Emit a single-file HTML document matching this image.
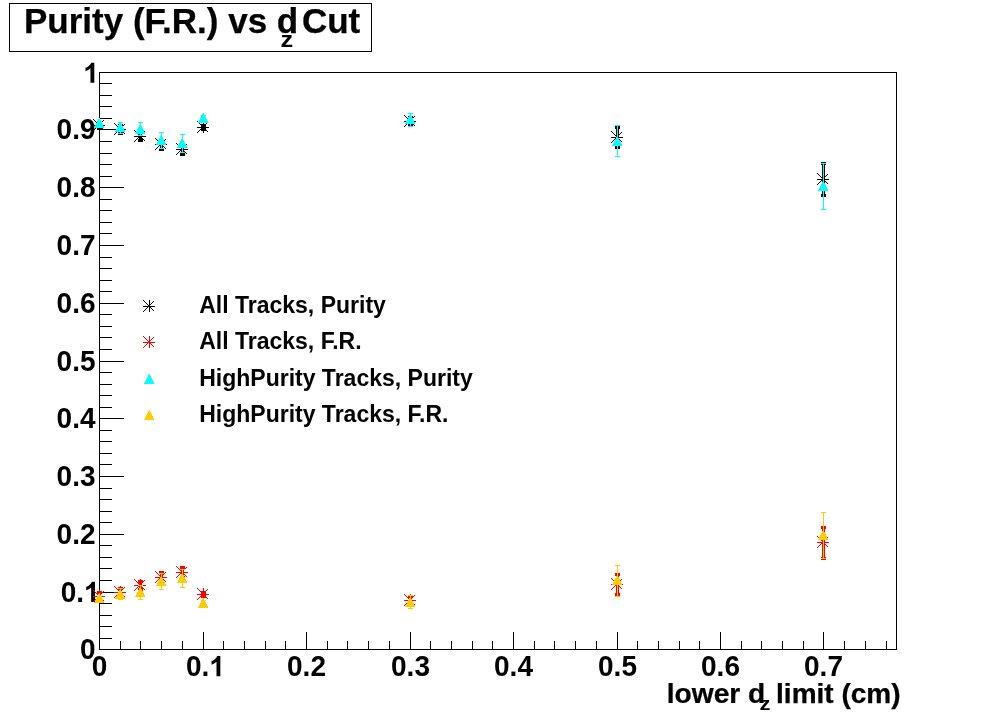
<!DOCTYPE html>
<html><head><meta charset="utf-8"><title>Purity (F.R.) vs dz Cut</title>
<style>html,body{margin:0;padding:0;background:#fff;}body{width:996px;height:722px;overflow:hidden;}svg{display:block;will-change:transform;}text{font-family:"Liberation Sans",sans-serif;font-weight:bold;fill:#000;}</style>
</head><body>
<svg width="996" height="722" viewBox="0 0 996 722">
<rect x="0" y="0" width="996" height="722" fill="#fff"/>
<g shape-rendering="crispEdges">
<rect x="9.5" y="3.5" width="362" height="48" fill="#fff" stroke="#000" stroke-width="1"/>
<rect x="99.5" y="72.5" width="797" height="577" fill="none" stroke="#000" stroke-width="1"/>
<rect x="99" y="649" width="25" height="1" fill="#000"/>
<rect x="99" y="638" width="13" height="1" fill="#000"/>
<rect x="99" y="626" width="13" height="1" fill="#000"/>
<rect x="99" y="615" width="13" height="1" fill="#000"/>
<rect x="99" y="603" width="13" height="1" fill="#000"/>
<rect x="99" y="592" width="25" height="1" fill="#000"/>
<rect x="99" y="580" width="13" height="1" fill="#000"/>
<rect x="99" y="568" width="13" height="1" fill="#000"/>
<rect x="99" y="557" width="13" height="1" fill="#000"/>
<rect x="99" y="545" width="13" height="1" fill="#000"/>
<rect x="99" y="534" width="25" height="1" fill="#000"/>
<rect x="99" y="522" width="13" height="1" fill="#000"/>
<rect x="99" y="511" width="13" height="1" fill="#000"/>
<rect x="99" y="499" width="13" height="1" fill="#000"/>
<rect x="99" y="488" width="13" height="1" fill="#000"/>
<rect x="99" y="476" width="25" height="1" fill="#000"/>
<rect x="99" y="464" width="13" height="1" fill="#000"/>
<rect x="99" y="453" width="13" height="1" fill="#000"/>
<rect x="99" y="441" width="13" height="1" fill="#000"/>
<rect x="99" y="430" width="13" height="1" fill="#000"/>
<rect x="99" y="418" width="25" height="1" fill="#000"/>
<rect x="99" y="407" width="13" height="1" fill="#000"/>
<rect x="99" y="395" width="13" height="1" fill="#000"/>
<rect x="99" y="384" width="13" height="1" fill="#000"/>
<rect x="99" y="372" width="13" height="1" fill="#000"/>
<rect x="99" y="361" width="25" height="1" fill="#000"/>
<rect x="99" y="349" width="13" height="1" fill="#000"/>
<rect x="99" y="337" width="13" height="1" fill="#000"/>
<rect x="99" y="326" width="13" height="1" fill="#000"/>
<rect x="99" y="314" width="13" height="1" fill="#000"/>
<rect x="99" y="303" width="25" height="1" fill="#000"/>
<rect x="99" y="291" width="13" height="1" fill="#000"/>
<rect x="99" y="280" width="13" height="1" fill="#000"/>
<rect x="99" y="268" width="13" height="1" fill="#000"/>
<rect x="99" y="257" width="13" height="1" fill="#000"/>
<rect x="99" y="245" width="25" height="1" fill="#000"/>
<rect x="99" y="233" width="13" height="1" fill="#000"/>
<rect x="99" y="222" width="13" height="1" fill="#000"/>
<rect x="99" y="210" width="13" height="1" fill="#000"/>
<rect x="99" y="199" width="13" height="1" fill="#000"/>
<rect x="99" y="187" width="25" height="1" fill="#000"/>
<rect x="99" y="176" width="13" height="1" fill="#000"/>
<rect x="99" y="164" width="13" height="1" fill="#000"/>
<rect x="99" y="153" width="13" height="1" fill="#000"/>
<rect x="99" y="141" width="13" height="1" fill="#000"/>
<rect x="99" y="129" width="25" height="1" fill="#000"/>
<rect x="99" y="118" width="13" height="1" fill="#000"/>
<rect x="99" y="106" width="13" height="1" fill="#000"/>
<rect x="99" y="95" width="13" height="1" fill="#000"/>
<rect x="99" y="83" width="13" height="1" fill="#000"/>
<rect x="99" y="72" width="25" height="1" fill="#000"/>
<rect x="99" y="632" width="1" height="18" fill="#000"/>
<rect x="120" y="641" width="1" height="9" fill="#000"/>
<rect x="140" y="641" width="1" height="9" fill="#000"/>
<rect x="161" y="641" width="1" height="9" fill="#000"/>
<rect x="182" y="641" width="1" height="9" fill="#000"/>
<rect x="203" y="632" width="1" height="18" fill="#000"/>
<rect x="223" y="641" width="1" height="9" fill="#000"/>
<rect x="244" y="641" width="1" height="9" fill="#000"/>
<rect x="265" y="641" width="1" height="9" fill="#000"/>
<rect x="285" y="641" width="1" height="9" fill="#000"/>
<rect x="306" y="632" width="1" height="18" fill="#000"/>
<rect x="327" y="641" width="1" height="9" fill="#000"/>
<rect x="347" y="641" width="1" height="9" fill="#000"/>
<rect x="368" y="641" width="1" height="9" fill="#000"/>
<rect x="389" y="641" width="1" height="9" fill="#000"/>
<rect x="410" y="632" width="1" height="18" fill="#000"/>
<rect x="430" y="641" width="1" height="9" fill="#000"/>
<rect x="451" y="641" width="1" height="9" fill="#000"/>
<rect x="472" y="641" width="1" height="9" fill="#000"/>
<rect x="492" y="641" width="1" height="9" fill="#000"/>
<rect x="513" y="632" width="1" height="18" fill="#000"/>
<rect x="534" y="641" width="1" height="9" fill="#000"/>
<rect x="554" y="641" width="1" height="9" fill="#000"/>
<rect x="575" y="641" width="1" height="9" fill="#000"/>
<rect x="596" y="641" width="1" height="9" fill="#000"/>
<rect x="617" y="632" width="1" height="18" fill="#000"/>
<rect x="637" y="641" width="1" height="9" fill="#000"/>
<rect x="658" y="641" width="1" height="9" fill="#000"/>
<rect x="679" y="641" width="1" height="9" fill="#000"/>
<rect x="699" y="641" width="1" height="9" fill="#000"/>
<rect x="720" y="632" width="1" height="18" fill="#000"/>
<rect x="741" y="641" width="1" height="9" fill="#000"/>
<rect x="761" y="641" width="1" height="9" fill="#000"/>
<rect x="782" y="641" width="1" height="9" fill="#000"/>
<rect x="803" y="641" width="1" height="9" fill="#000"/>
<rect x="823" y="632" width="1" height="18" fill="#000"/>
<rect x="844" y="641" width="1" height="9" fill="#000"/>
<rect x="865" y="641" width="1" height="9" fill="#000"/>
<rect x="886" y="641" width="1" height="9" fill="#000"/>
</g>
<text transform="translate(24.00,32.50) scale(1,1.0)" font-size="35" text-anchor="start" stroke="#000" stroke-width="0.25" xml:space="preserve">Purity (F.R.) vs d</text>
<text transform="translate(280.60,46.90) scale(1.15,1)" font-size="22" text-anchor="start" xml:space="preserve">z</text>
<text transform="translate(301.90,32.50) scale(1,1.0)" font-size="35" text-anchor="start" stroke="#000" stroke-width="0.25" xml:space="preserve">Cut</text>
<text transform="translate(95.50,658.90) scale(1,1.06)" font-size="28.0" text-anchor="end">0</text>
<path transform="translate(83.98,601.90) scale(0.01367,-0.01367)" d="M806 0H525V1059Q371 915 162 846V1101Q272 1137 401 1237.5Q530 1338 578 1472H806Z" fill="#000"/>
<text transform="translate(83.98,601.90) scale(1,1.06)" font-size="28.0" text-anchor="end">0.</text>
<text transform="translate(95.50,543.90) scale(1,1.06)" font-size="28.0" text-anchor="end">0.2</text>
<text transform="translate(95.50,485.90) scale(1,1.06)" font-size="28.0" text-anchor="end">0.3</text>
<text transform="translate(95.50,427.90) scale(1,1.06)" font-size="28.0" text-anchor="end">0.4</text>
<text transform="translate(95.50,370.90) scale(1,1.06)" font-size="28.0" text-anchor="end">0.5</text>
<text transform="translate(95.50,312.90) scale(1,1.06)" font-size="28.0" text-anchor="end">0.6</text>
<text transform="translate(95.50,254.90) scale(1,1.06)" font-size="28.0" text-anchor="end">0.7</text>
<text transform="translate(95.50,196.90) scale(1,1.06)" font-size="28.0" text-anchor="end">0.8</text>
<text transform="translate(95.50,138.90) scale(1,1.06)" font-size="28.0" text-anchor="end">0.9</text>
<path transform="translate(83.28,82.80) scale(0.01367,-0.01367)" d="M806 0H525V1059Q371 915 162 846V1101Q272 1137 401 1237.5Q530 1338 578 1472H806Z" fill="#000"/>
<text transform="translate(99.50,676.20) scale(1,1.06)" font-size="28.0" text-anchor="middle">0</text>
<text transform="translate(185.96,676.20) scale(1,1.06)" font-size="28.0" text-anchor="start">0.</text>
<path transform="translate(209.32,676.20) scale(0.01367,-0.01367)" d="M806 0H525V1059Q371 915 162 846V1101Q272 1137 401 1237.5Q530 1338 578 1472H806Z" fill="#000"/>
<text transform="translate(306.50,676.20) scale(1,1.06)" font-size="28.0" text-anchor="middle">0.2</text>
<text transform="translate(410.50,676.20) scale(1,1.06)" font-size="28.0" text-anchor="middle">0.3</text>
<text transform="translate(513.50,676.20) scale(1,1.06)" font-size="28.0" text-anchor="middle">0.4</text>
<text transform="translate(617.50,676.20) scale(1,1.06)" font-size="28.0" text-anchor="middle">0.5</text>
<text transform="translate(720.50,676.20) scale(1,1.06)" font-size="28.0" text-anchor="middle">0.6</text>
<text transform="translate(823.50,676.20) scale(1,1.06)" font-size="28.0" text-anchor="middle">0.7</text>
<text transform="translate(666.80,703.10) scale(1.005,1)" font-size="28" text-anchor="start" stroke="#000" stroke-width="0.25" xml:space="preserve">lower d</text>
<text transform="translate(759.50,709.70) scale(1.15,1)" font-size="19" text-anchor="start" xml:space="preserve">z</text>
<text transform="translate(768.30,703.10) scale(1,1)" font-size="28" text-anchor="start" stroke="#000" stroke-width="0.25" xml:space="preserve"> limit (cm)</text>
<text x="199.2" y="312.9" font-size="23">All Tracks, Purity</text>
<text x="199.2" y="349.0" font-size="23">All Tracks, F.R.</text>
<text x="199.2" y="385.7" font-size="23">HighPurity Tracks, Purity</text>
<text x="199.2" y="422.0" font-size="23">HighPurity Tracks, F.R.</text>
<g shape-rendering="crispEdges">
<rect x="98" y="122" width="3" height="7" fill="#000"/>
<rect x="97" y="121" width="5" height="3" fill="#000"/>
<rect x="97" y="127" width="5" height="3" fill="#000"/>
<rect x="93" y="125" width="12" height="1" fill="#000"/>
<rect x="99" y="119" width="1" height="12" fill="#000"/>
<rect x="93" y="119" width="1" height="1" fill="#000"/>
<rect x="94" y="120" width="1" height="1" fill="#000"/>
<rect x="95" y="121" width="1" height="1" fill="#000"/>
<rect x="96" y="122" width="1" height="1" fill="#000"/>
<rect x="97" y="123" width="1" height="1" fill="#000"/>
<rect x="98" y="124" width="1" height="1" fill="#000"/>
<rect x="99" y="125" width="1" height="1" fill="#000"/>
<rect x="100" y="126" width="1" height="1" fill="#000"/>
<rect x="101" y="127" width="1" height="1" fill="#000"/>
<rect x="102" y="128" width="1" height="1" fill="#000"/>
<rect x="103" y="129" width="1" height="1" fill="#000"/>
<rect x="93" y="130" width="1" height="1" fill="#000"/>
<rect x="94" y="129" width="1" height="1" fill="#000"/>
<rect x="95" y="128" width="1" height="1" fill="#000"/>
<rect x="96" y="127" width="1" height="1" fill="#000"/>
<rect x="97" y="126" width="1" height="1" fill="#000"/>
<rect x="98" y="125" width="1" height="1" fill="#000"/>
<rect x="99" y="124" width="1" height="1" fill="#000"/>
<rect x="100" y="123" width="1" height="1" fill="#000"/>
<rect x="101" y="122" width="1" height="1" fill="#000"/>
<rect x="102" y="121" width="1" height="1" fill="#000"/>
<rect x="103" y="120" width="1" height="1" fill="#000"/>
<rect x="119" y="125" width="3" height="9" fill="#000"/>
<rect x="118" y="124" width="5" height="3" fill="#000"/>
<rect x="118" y="132" width="5" height="3" fill="#000"/>
<rect x="114" y="129" width="12" height="1" fill="#000"/>
<rect x="120" y="123" width="1" height="12" fill="#000"/>
<rect x="114" y="123" width="1" height="1" fill="#000"/>
<rect x="115" y="124" width="1" height="1" fill="#000"/>
<rect x="116" y="125" width="1" height="1" fill="#000"/>
<rect x="117" y="126" width="1" height="1" fill="#000"/>
<rect x="118" y="127" width="1" height="1" fill="#000"/>
<rect x="119" y="128" width="1" height="1" fill="#000"/>
<rect x="120" y="129" width="1" height="1" fill="#000"/>
<rect x="121" y="130" width="1" height="1" fill="#000"/>
<rect x="122" y="131" width="1" height="1" fill="#000"/>
<rect x="123" y="132" width="1" height="1" fill="#000"/>
<rect x="124" y="133" width="1" height="1" fill="#000"/>
<rect x="114" y="134" width="1" height="1" fill="#000"/>
<rect x="115" y="133" width="1" height="1" fill="#000"/>
<rect x="116" y="132" width="1" height="1" fill="#000"/>
<rect x="117" y="131" width="1" height="1" fill="#000"/>
<rect x="118" y="130" width="1" height="1" fill="#000"/>
<rect x="119" y="129" width="1" height="1" fill="#000"/>
<rect x="120" y="128" width="1" height="1" fill="#000"/>
<rect x="121" y="127" width="1" height="1" fill="#000"/>
<rect x="122" y="126" width="1" height="1" fill="#000"/>
<rect x="123" y="125" width="1" height="1" fill="#000"/>
<rect x="124" y="124" width="1" height="1" fill="#000"/>
<rect x="139" y="132" width="3" height="9" fill="#000"/>
<rect x="138" y="131" width="5" height="3" fill="#000"/>
<rect x="138" y="139" width="5" height="3" fill="#000"/>
<rect x="134" y="136" width="12" height="1" fill="#000"/>
<rect x="140" y="130" width="1" height="12" fill="#000"/>
<rect x="134" y="130" width="1" height="1" fill="#000"/>
<rect x="135" y="131" width="1" height="1" fill="#000"/>
<rect x="136" y="132" width="1" height="1" fill="#000"/>
<rect x="137" y="133" width="1" height="1" fill="#000"/>
<rect x="138" y="134" width="1" height="1" fill="#000"/>
<rect x="139" y="135" width="1" height="1" fill="#000"/>
<rect x="140" y="136" width="1" height="1" fill="#000"/>
<rect x="141" y="137" width="1" height="1" fill="#000"/>
<rect x="142" y="138" width="1" height="1" fill="#000"/>
<rect x="143" y="139" width="1" height="1" fill="#000"/>
<rect x="144" y="140" width="1" height="1" fill="#000"/>
<rect x="134" y="141" width="1" height="1" fill="#000"/>
<rect x="135" y="140" width="1" height="1" fill="#000"/>
<rect x="136" y="139" width="1" height="1" fill="#000"/>
<rect x="137" y="138" width="1" height="1" fill="#000"/>
<rect x="138" y="137" width="1" height="1" fill="#000"/>
<rect x="139" y="136" width="1" height="1" fill="#000"/>
<rect x="140" y="135" width="1" height="1" fill="#000"/>
<rect x="141" y="134" width="1" height="1" fill="#000"/>
<rect x="142" y="133" width="1" height="1" fill="#000"/>
<rect x="143" y="132" width="1" height="1" fill="#000"/>
<rect x="144" y="131" width="1" height="1" fill="#000"/>
<rect x="160" y="140" width="3" height="10" fill="#000"/>
<rect x="159" y="139" width="5" height="3" fill="#000"/>
<rect x="159" y="148" width="5" height="3" fill="#000"/>
<rect x="155" y="144" width="12" height="1" fill="#000"/>
<rect x="161" y="138" width="1" height="12" fill="#000"/>
<rect x="155" y="138" width="1" height="1" fill="#000"/>
<rect x="156" y="139" width="1" height="1" fill="#000"/>
<rect x="157" y="140" width="1" height="1" fill="#000"/>
<rect x="158" y="141" width="1" height="1" fill="#000"/>
<rect x="159" y="142" width="1" height="1" fill="#000"/>
<rect x="160" y="143" width="1" height="1" fill="#000"/>
<rect x="161" y="144" width="1" height="1" fill="#000"/>
<rect x="162" y="145" width="1" height="1" fill="#000"/>
<rect x="163" y="146" width="1" height="1" fill="#000"/>
<rect x="164" y="147" width="1" height="1" fill="#000"/>
<rect x="165" y="148" width="1" height="1" fill="#000"/>
<rect x="155" y="149" width="1" height="1" fill="#000"/>
<rect x="156" y="148" width="1" height="1" fill="#000"/>
<rect x="157" y="147" width="1" height="1" fill="#000"/>
<rect x="158" y="146" width="1" height="1" fill="#000"/>
<rect x="159" y="145" width="1" height="1" fill="#000"/>
<rect x="160" y="144" width="1" height="1" fill="#000"/>
<rect x="161" y="143" width="1" height="1" fill="#000"/>
<rect x="162" y="142" width="1" height="1" fill="#000"/>
<rect x="163" y="141" width="1" height="1" fill="#000"/>
<rect x="164" y="140" width="1" height="1" fill="#000"/>
<rect x="165" y="139" width="1" height="1" fill="#000"/>
<rect x="181" y="144" width="3" height="11" fill="#000"/>
<rect x="180" y="143" width="5" height="3" fill="#000"/>
<rect x="180" y="153" width="5" height="3" fill="#000"/>
<rect x="176" y="149" width="12" height="1" fill="#000"/>
<rect x="182" y="143" width="1" height="12" fill="#000"/>
<rect x="176" y="143" width="1" height="1" fill="#000"/>
<rect x="177" y="144" width="1" height="1" fill="#000"/>
<rect x="178" y="145" width="1" height="1" fill="#000"/>
<rect x="179" y="146" width="1" height="1" fill="#000"/>
<rect x="180" y="147" width="1" height="1" fill="#000"/>
<rect x="181" y="148" width="1" height="1" fill="#000"/>
<rect x="182" y="149" width="1" height="1" fill="#000"/>
<rect x="183" y="150" width="1" height="1" fill="#000"/>
<rect x="184" y="151" width="1" height="1" fill="#000"/>
<rect x="185" y="152" width="1" height="1" fill="#000"/>
<rect x="186" y="153" width="1" height="1" fill="#000"/>
<rect x="176" y="154" width="1" height="1" fill="#000"/>
<rect x="177" y="153" width="1" height="1" fill="#000"/>
<rect x="178" y="152" width="1" height="1" fill="#000"/>
<rect x="179" y="151" width="1" height="1" fill="#000"/>
<rect x="180" y="150" width="1" height="1" fill="#000"/>
<rect x="181" y="149" width="1" height="1" fill="#000"/>
<rect x="182" y="148" width="1" height="1" fill="#000"/>
<rect x="183" y="147" width="1" height="1" fill="#000"/>
<rect x="184" y="146" width="1" height="1" fill="#000"/>
<rect x="185" y="145" width="1" height="1" fill="#000"/>
<rect x="186" y="144" width="1" height="1" fill="#000"/>
<rect x="202" y="125" width="3" height="5" fill="#000"/>
<rect x="201" y="124" width="5" height="3" fill="#000"/>
<rect x="201" y="128" width="5" height="3" fill="#000"/>
<rect x="197" y="127" width="12" height="1" fill="#000"/>
<rect x="203" y="121" width="1" height="12" fill="#000"/>
<rect x="197" y="121" width="1" height="1" fill="#000"/>
<rect x="198" y="122" width="1" height="1" fill="#000"/>
<rect x="199" y="123" width="1" height="1" fill="#000"/>
<rect x="200" y="124" width="1" height="1" fill="#000"/>
<rect x="201" y="125" width="1" height="1" fill="#000"/>
<rect x="202" y="126" width="1" height="1" fill="#000"/>
<rect x="203" y="127" width="1" height="1" fill="#000"/>
<rect x="204" y="128" width="1" height="1" fill="#000"/>
<rect x="205" y="129" width="1" height="1" fill="#000"/>
<rect x="206" y="130" width="1" height="1" fill="#000"/>
<rect x="207" y="131" width="1" height="1" fill="#000"/>
<rect x="197" y="132" width="1" height="1" fill="#000"/>
<rect x="198" y="131" width="1" height="1" fill="#000"/>
<rect x="199" y="130" width="1" height="1" fill="#000"/>
<rect x="200" y="129" width="1" height="1" fill="#000"/>
<rect x="201" y="128" width="1" height="1" fill="#000"/>
<rect x="202" y="127" width="1" height="1" fill="#000"/>
<rect x="203" y="126" width="1" height="1" fill="#000"/>
<rect x="204" y="125" width="1" height="1" fill="#000"/>
<rect x="205" y="124" width="1" height="1" fill="#000"/>
<rect x="206" y="123" width="1" height="1" fill="#000"/>
<rect x="207" y="122" width="1" height="1" fill="#000"/>
<rect x="409" y="117" width="3" height="9" fill="#000"/>
<rect x="408" y="116" width="5" height="3" fill="#000"/>
<rect x="408" y="124" width="5" height="3" fill="#000"/>
<rect x="404" y="121" width="12" height="1" fill="#000"/>
<rect x="410" y="115" width="1" height="12" fill="#000"/>
<rect x="404" y="115" width="1" height="1" fill="#000"/>
<rect x="405" y="116" width="1" height="1" fill="#000"/>
<rect x="406" y="117" width="1" height="1" fill="#000"/>
<rect x="407" y="118" width="1" height="1" fill="#000"/>
<rect x="408" y="119" width="1" height="1" fill="#000"/>
<rect x="409" y="120" width="1" height="1" fill="#000"/>
<rect x="410" y="121" width="1" height="1" fill="#000"/>
<rect x="411" y="122" width="1" height="1" fill="#000"/>
<rect x="412" y="123" width="1" height="1" fill="#000"/>
<rect x="413" y="124" width="1" height="1" fill="#000"/>
<rect x="414" y="125" width="1" height="1" fill="#000"/>
<rect x="404" y="126" width="1" height="1" fill="#000"/>
<rect x="405" y="125" width="1" height="1" fill="#000"/>
<rect x="406" y="124" width="1" height="1" fill="#000"/>
<rect x="407" y="123" width="1" height="1" fill="#000"/>
<rect x="408" y="122" width="1" height="1" fill="#000"/>
<rect x="409" y="121" width="1" height="1" fill="#000"/>
<rect x="410" y="120" width="1" height="1" fill="#000"/>
<rect x="411" y="119" width="1" height="1" fill="#000"/>
<rect x="412" y="118" width="1" height="1" fill="#000"/>
<rect x="413" y="117" width="1" height="1" fill="#000"/>
<rect x="414" y="116" width="1" height="1" fill="#000"/>
<rect x="616" y="127" width="3" height="21" fill="#000"/>
<rect x="615" y="126" width="5" height="3" fill="#000"/>
<rect x="615" y="146" width="5" height="3" fill="#000"/>
<rect x="611" y="137" width="12" height="1" fill="#000"/>
<rect x="617" y="131" width="1" height="12" fill="#000"/>
<rect x="611" y="131" width="1" height="1" fill="#000"/>
<rect x="612" y="132" width="1" height="1" fill="#000"/>
<rect x="613" y="133" width="1" height="1" fill="#000"/>
<rect x="614" y="134" width="1" height="1" fill="#000"/>
<rect x="615" y="135" width="1" height="1" fill="#000"/>
<rect x="616" y="136" width="1" height="1" fill="#000"/>
<rect x="617" y="137" width="1" height="1" fill="#000"/>
<rect x="618" y="138" width="1" height="1" fill="#000"/>
<rect x="619" y="139" width="1" height="1" fill="#000"/>
<rect x="620" y="140" width="1" height="1" fill="#000"/>
<rect x="621" y="141" width="1" height="1" fill="#000"/>
<rect x="611" y="142" width="1" height="1" fill="#000"/>
<rect x="612" y="141" width="1" height="1" fill="#000"/>
<rect x="613" y="140" width="1" height="1" fill="#000"/>
<rect x="614" y="139" width="1" height="1" fill="#000"/>
<rect x="615" y="138" width="1" height="1" fill="#000"/>
<rect x="616" y="137" width="1" height="1" fill="#000"/>
<rect x="617" y="136" width="1" height="1" fill="#000"/>
<rect x="618" y="135" width="1" height="1" fill="#000"/>
<rect x="619" y="134" width="1" height="1" fill="#000"/>
<rect x="620" y="133" width="1" height="1" fill="#000"/>
<rect x="621" y="132" width="1" height="1" fill="#000"/>
<rect x="822" y="163" width="3" height="33" fill="#000"/>
<rect x="821" y="162" width="5" height="3" fill="#000"/>
<rect x="821" y="194" width="5" height="3" fill="#000"/>
<rect x="817" y="179" width="12" height="1" fill="#000"/>
<rect x="823" y="173" width="1" height="12" fill="#000"/>
<rect x="817" y="173" width="1" height="1" fill="#000"/>
<rect x="818" y="174" width="1" height="1" fill="#000"/>
<rect x="819" y="175" width="1" height="1" fill="#000"/>
<rect x="820" y="176" width="1" height="1" fill="#000"/>
<rect x="821" y="177" width="1" height="1" fill="#000"/>
<rect x="822" y="178" width="1" height="1" fill="#000"/>
<rect x="823" y="179" width="1" height="1" fill="#000"/>
<rect x="824" y="180" width="1" height="1" fill="#000"/>
<rect x="825" y="181" width="1" height="1" fill="#000"/>
<rect x="826" y="182" width="1" height="1" fill="#000"/>
<rect x="827" y="183" width="1" height="1" fill="#000"/>
<rect x="817" y="184" width="1" height="1" fill="#000"/>
<rect x="818" y="183" width="1" height="1" fill="#000"/>
<rect x="819" y="182" width="1" height="1" fill="#000"/>
<rect x="820" y="181" width="1" height="1" fill="#000"/>
<rect x="821" y="180" width="1" height="1" fill="#000"/>
<rect x="822" y="179" width="1" height="1" fill="#000"/>
<rect x="823" y="178" width="1" height="1" fill="#000"/>
<rect x="824" y="177" width="1" height="1" fill="#000"/>
<rect x="825" y="176" width="1" height="1" fill="#000"/>
<rect x="826" y="175" width="1" height="1" fill="#000"/>
<rect x="827" y="174" width="1" height="1" fill="#000"/>
<rect x="98" y="592" width="3" height="9" fill="#f00"/>
<rect x="97" y="591" width="5" height="3" fill="#f00"/>
<rect x="97" y="599" width="5" height="3" fill="#f00"/>
<rect x="93" y="596" width="12" height="1" fill="#f00"/>
<rect x="99" y="590" width="1" height="12" fill="#f00"/>
<rect x="93" y="590" width="1" height="1" fill="#f00"/>
<rect x="94" y="591" width="1" height="1" fill="#f00"/>
<rect x="95" y="592" width="1" height="1" fill="#f00"/>
<rect x="96" y="593" width="1" height="1" fill="#f00"/>
<rect x="97" y="594" width="1" height="1" fill="#f00"/>
<rect x="98" y="595" width="1" height="1" fill="#f00"/>
<rect x="99" y="596" width="1" height="1" fill="#f00"/>
<rect x="100" y="597" width="1" height="1" fill="#f00"/>
<rect x="101" y="598" width="1" height="1" fill="#f00"/>
<rect x="102" y="599" width="1" height="1" fill="#f00"/>
<rect x="103" y="600" width="1" height="1" fill="#f00"/>
<rect x="93" y="601" width="1" height="1" fill="#f00"/>
<rect x="94" y="600" width="1" height="1" fill="#f00"/>
<rect x="95" y="599" width="1" height="1" fill="#f00"/>
<rect x="96" y="598" width="1" height="1" fill="#f00"/>
<rect x="97" y="597" width="1" height="1" fill="#f00"/>
<rect x="98" y="596" width="1" height="1" fill="#f00"/>
<rect x="99" y="595" width="1" height="1" fill="#f00"/>
<rect x="100" y="594" width="1" height="1" fill="#f00"/>
<rect x="101" y="593" width="1" height="1" fill="#f00"/>
<rect x="102" y="592" width="1" height="1" fill="#f00"/>
<rect x="103" y="591" width="1" height="1" fill="#f00"/>
<rect x="119" y="588" width="3" height="9" fill="#f00"/>
<rect x="118" y="587" width="5" height="3" fill="#f00"/>
<rect x="118" y="595" width="5" height="3" fill="#f00"/>
<rect x="114" y="592" width="12" height="1" fill="#f00"/>
<rect x="120" y="586" width="1" height="12" fill="#f00"/>
<rect x="114" y="586" width="1" height="1" fill="#f00"/>
<rect x="115" y="587" width="1" height="1" fill="#f00"/>
<rect x="116" y="588" width="1" height="1" fill="#f00"/>
<rect x="117" y="589" width="1" height="1" fill="#f00"/>
<rect x="118" y="590" width="1" height="1" fill="#f00"/>
<rect x="119" y="591" width="1" height="1" fill="#f00"/>
<rect x="120" y="592" width="1" height="1" fill="#f00"/>
<rect x="121" y="593" width="1" height="1" fill="#f00"/>
<rect x="122" y="594" width="1" height="1" fill="#f00"/>
<rect x="123" y="595" width="1" height="1" fill="#f00"/>
<rect x="124" y="596" width="1" height="1" fill="#f00"/>
<rect x="114" y="597" width="1" height="1" fill="#f00"/>
<rect x="115" y="596" width="1" height="1" fill="#f00"/>
<rect x="116" y="595" width="1" height="1" fill="#f00"/>
<rect x="117" y="594" width="1" height="1" fill="#f00"/>
<rect x="118" y="593" width="1" height="1" fill="#f00"/>
<rect x="119" y="592" width="1" height="1" fill="#f00"/>
<rect x="120" y="591" width="1" height="1" fill="#f00"/>
<rect x="121" y="590" width="1" height="1" fill="#f00"/>
<rect x="122" y="589" width="1" height="1" fill="#f00"/>
<rect x="123" y="588" width="1" height="1" fill="#f00"/>
<rect x="124" y="587" width="1" height="1" fill="#f00"/>
<rect x="139" y="581" width="3" height="9" fill="#f00"/>
<rect x="138" y="580" width="5" height="3" fill="#f00"/>
<rect x="138" y="588" width="5" height="3" fill="#f00"/>
<rect x="134" y="585" width="12" height="1" fill="#f00"/>
<rect x="140" y="579" width="1" height="12" fill="#f00"/>
<rect x="134" y="579" width="1" height="1" fill="#f00"/>
<rect x="135" y="580" width="1" height="1" fill="#f00"/>
<rect x="136" y="581" width="1" height="1" fill="#f00"/>
<rect x="137" y="582" width="1" height="1" fill="#f00"/>
<rect x="138" y="583" width="1" height="1" fill="#f00"/>
<rect x="139" y="584" width="1" height="1" fill="#f00"/>
<rect x="140" y="585" width="1" height="1" fill="#f00"/>
<rect x="141" y="586" width="1" height="1" fill="#f00"/>
<rect x="142" y="587" width="1" height="1" fill="#f00"/>
<rect x="143" y="588" width="1" height="1" fill="#f00"/>
<rect x="144" y="589" width="1" height="1" fill="#f00"/>
<rect x="134" y="590" width="1" height="1" fill="#f00"/>
<rect x="135" y="589" width="1" height="1" fill="#f00"/>
<rect x="136" y="588" width="1" height="1" fill="#f00"/>
<rect x="137" y="587" width="1" height="1" fill="#f00"/>
<rect x="138" y="586" width="1" height="1" fill="#f00"/>
<rect x="139" y="585" width="1" height="1" fill="#f00"/>
<rect x="140" y="584" width="1" height="1" fill="#f00"/>
<rect x="141" y="583" width="1" height="1" fill="#f00"/>
<rect x="142" y="582" width="1" height="1" fill="#f00"/>
<rect x="143" y="581" width="1" height="1" fill="#f00"/>
<rect x="144" y="580" width="1" height="1" fill="#f00"/>
<rect x="160" y="572" width="3" height="11" fill="#f00"/>
<rect x="159" y="571" width="5" height="3" fill="#f00"/>
<rect x="159" y="581" width="5" height="3" fill="#f00"/>
<rect x="155" y="577" width="12" height="1" fill="#f00"/>
<rect x="161" y="571" width="1" height="12" fill="#f00"/>
<rect x="155" y="571" width="1" height="1" fill="#f00"/>
<rect x="156" y="572" width="1" height="1" fill="#f00"/>
<rect x="157" y="573" width="1" height="1" fill="#f00"/>
<rect x="158" y="574" width="1" height="1" fill="#f00"/>
<rect x="159" y="575" width="1" height="1" fill="#f00"/>
<rect x="160" y="576" width="1" height="1" fill="#f00"/>
<rect x="161" y="577" width="1" height="1" fill="#f00"/>
<rect x="162" y="578" width="1" height="1" fill="#f00"/>
<rect x="163" y="579" width="1" height="1" fill="#f00"/>
<rect x="164" y="580" width="1" height="1" fill="#f00"/>
<rect x="165" y="581" width="1" height="1" fill="#f00"/>
<rect x="155" y="582" width="1" height="1" fill="#f00"/>
<rect x="156" y="581" width="1" height="1" fill="#f00"/>
<rect x="157" y="580" width="1" height="1" fill="#f00"/>
<rect x="158" y="579" width="1" height="1" fill="#f00"/>
<rect x="159" y="578" width="1" height="1" fill="#f00"/>
<rect x="160" y="577" width="1" height="1" fill="#f00"/>
<rect x="161" y="576" width="1" height="1" fill="#f00"/>
<rect x="162" y="575" width="1" height="1" fill="#f00"/>
<rect x="163" y="574" width="1" height="1" fill="#f00"/>
<rect x="164" y="573" width="1" height="1" fill="#f00"/>
<rect x="165" y="572" width="1" height="1" fill="#f00"/>
<rect x="181" y="567" width="3" height="11" fill="#f00"/>
<rect x="180" y="566" width="5" height="3" fill="#f00"/>
<rect x="180" y="576" width="5" height="3" fill="#f00"/>
<rect x="176" y="572" width="12" height="1" fill="#f00"/>
<rect x="182" y="566" width="1" height="12" fill="#f00"/>
<rect x="176" y="566" width="1" height="1" fill="#f00"/>
<rect x="177" y="567" width="1" height="1" fill="#f00"/>
<rect x="178" y="568" width="1" height="1" fill="#f00"/>
<rect x="179" y="569" width="1" height="1" fill="#f00"/>
<rect x="180" y="570" width="1" height="1" fill="#f00"/>
<rect x="181" y="571" width="1" height="1" fill="#f00"/>
<rect x="182" y="572" width="1" height="1" fill="#f00"/>
<rect x="183" y="573" width="1" height="1" fill="#f00"/>
<rect x="184" y="574" width="1" height="1" fill="#f00"/>
<rect x="185" y="575" width="1" height="1" fill="#f00"/>
<rect x="186" y="576" width="1" height="1" fill="#f00"/>
<rect x="176" y="577" width="1" height="1" fill="#f00"/>
<rect x="177" y="576" width="1" height="1" fill="#f00"/>
<rect x="178" y="575" width="1" height="1" fill="#f00"/>
<rect x="179" y="574" width="1" height="1" fill="#f00"/>
<rect x="180" y="573" width="1" height="1" fill="#f00"/>
<rect x="181" y="572" width="1" height="1" fill="#f00"/>
<rect x="182" y="571" width="1" height="1" fill="#f00"/>
<rect x="183" y="570" width="1" height="1" fill="#f00"/>
<rect x="184" y="569" width="1" height="1" fill="#f00"/>
<rect x="185" y="568" width="1" height="1" fill="#f00"/>
<rect x="186" y="567" width="1" height="1" fill="#f00"/>
<rect x="202" y="592" width="3" height="5" fill="#f00"/>
<rect x="201" y="591" width="5" height="3" fill="#f00"/>
<rect x="201" y="595" width="5" height="3" fill="#f00"/>
<rect x="197" y="594" width="12" height="1" fill="#f00"/>
<rect x="203" y="588" width="1" height="12" fill="#f00"/>
<rect x="197" y="588" width="1" height="1" fill="#f00"/>
<rect x="198" y="589" width="1" height="1" fill="#f00"/>
<rect x="199" y="590" width="1" height="1" fill="#f00"/>
<rect x="200" y="591" width="1" height="1" fill="#f00"/>
<rect x="201" y="592" width="1" height="1" fill="#f00"/>
<rect x="202" y="593" width="1" height="1" fill="#f00"/>
<rect x="203" y="594" width="1" height="1" fill="#f00"/>
<rect x="204" y="595" width="1" height="1" fill="#f00"/>
<rect x="205" y="596" width="1" height="1" fill="#f00"/>
<rect x="206" y="597" width="1" height="1" fill="#f00"/>
<rect x="207" y="598" width="1" height="1" fill="#f00"/>
<rect x="197" y="599" width="1" height="1" fill="#f00"/>
<rect x="198" y="598" width="1" height="1" fill="#f00"/>
<rect x="199" y="597" width="1" height="1" fill="#f00"/>
<rect x="200" y="596" width="1" height="1" fill="#f00"/>
<rect x="201" y="595" width="1" height="1" fill="#f00"/>
<rect x="202" y="594" width="1" height="1" fill="#f00"/>
<rect x="203" y="593" width="1" height="1" fill="#f00"/>
<rect x="204" y="592" width="1" height="1" fill="#f00"/>
<rect x="205" y="591" width="1" height="1" fill="#f00"/>
<rect x="206" y="590" width="1" height="1" fill="#f00"/>
<rect x="207" y="589" width="1" height="1" fill="#f00"/>
<rect x="409" y="596" width="3" height="9" fill="#f00"/>
<rect x="408" y="595" width="5" height="3" fill="#f00"/>
<rect x="408" y="603" width="5" height="3" fill="#f00"/>
<rect x="404" y="600" width="12" height="1" fill="#f00"/>
<rect x="410" y="594" width="1" height="12" fill="#f00"/>
<rect x="404" y="594" width="1" height="1" fill="#f00"/>
<rect x="405" y="595" width="1" height="1" fill="#f00"/>
<rect x="406" y="596" width="1" height="1" fill="#f00"/>
<rect x="407" y="597" width="1" height="1" fill="#f00"/>
<rect x="408" y="598" width="1" height="1" fill="#f00"/>
<rect x="409" y="599" width="1" height="1" fill="#f00"/>
<rect x="410" y="600" width="1" height="1" fill="#f00"/>
<rect x="411" y="601" width="1" height="1" fill="#f00"/>
<rect x="412" y="602" width="1" height="1" fill="#f00"/>
<rect x="413" y="603" width="1" height="1" fill="#f00"/>
<rect x="414" y="604" width="1" height="1" fill="#f00"/>
<rect x="404" y="605" width="1" height="1" fill="#f00"/>
<rect x="405" y="604" width="1" height="1" fill="#f00"/>
<rect x="406" y="603" width="1" height="1" fill="#f00"/>
<rect x="407" y="602" width="1" height="1" fill="#f00"/>
<rect x="408" y="601" width="1" height="1" fill="#f00"/>
<rect x="409" y="600" width="1" height="1" fill="#f00"/>
<rect x="410" y="599" width="1" height="1" fill="#f00"/>
<rect x="411" y="598" width="1" height="1" fill="#f00"/>
<rect x="412" y="597" width="1" height="1" fill="#f00"/>
<rect x="413" y="596" width="1" height="1" fill="#f00"/>
<rect x="414" y="595" width="1" height="1" fill="#f00"/>
<rect x="616" y="574" width="3" height="21" fill="#f00"/>
<rect x="615" y="573" width="5" height="3" fill="#f00"/>
<rect x="615" y="593" width="5" height="3" fill="#f00"/>
<rect x="611" y="584" width="12" height="1" fill="#f00"/>
<rect x="617" y="578" width="1" height="12" fill="#f00"/>
<rect x="611" y="578" width="1" height="1" fill="#f00"/>
<rect x="612" y="579" width="1" height="1" fill="#f00"/>
<rect x="613" y="580" width="1" height="1" fill="#f00"/>
<rect x="614" y="581" width="1" height="1" fill="#f00"/>
<rect x="615" y="582" width="1" height="1" fill="#f00"/>
<rect x="616" y="583" width="1" height="1" fill="#f00"/>
<rect x="617" y="584" width="1" height="1" fill="#f00"/>
<rect x="618" y="585" width="1" height="1" fill="#f00"/>
<rect x="619" y="586" width="1" height="1" fill="#f00"/>
<rect x="620" y="587" width="1" height="1" fill="#f00"/>
<rect x="621" y="588" width="1" height="1" fill="#f00"/>
<rect x="611" y="589" width="1" height="1" fill="#f00"/>
<rect x="612" y="588" width="1" height="1" fill="#f00"/>
<rect x="613" y="587" width="1" height="1" fill="#f00"/>
<rect x="614" y="586" width="1" height="1" fill="#f00"/>
<rect x="615" y="585" width="1" height="1" fill="#f00"/>
<rect x="616" y="584" width="1" height="1" fill="#f00"/>
<rect x="617" y="583" width="1" height="1" fill="#f00"/>
<rect x="618" y="582" width="1" height="1" fill="#f00"/>
<rect x="619" y="581" width="1" height="1" fill="#f00"/>
<rect x="620" y="580" width="1" height="1" fill="#f00"/>
<rect x="621" y="579" width="1" height="1" fill="#f00"/>
<rect x="822" y="527" width="3" height="32" fill="#f00"/>
<rect x="821" y="526" width="5" height="3" fill="#f00"/>
<rect x="821" y="557" width="5" height="3" fill="#f00"/>
<rect x="817" y="542" width="12" height="1" fill="#f00"/>
<rect x="823" y="536" width="1" height="12" fill="#f00"/>
<rect x="817" y="536" width="1" height="1" fill="#f00"/>
<rect x="818" y="537" width="1" height="1" fill="#f00"/>
<rect x="819" y="538" width="1" height="1" fill="#f00"/>
<rect x="820" y="539" width="1" height="1" fill="#f00"/>
<rect x="821" y="540" width="1" height="1" fill="#f00"/>
<rect x="822" y="541" width="1" height="1" fill="#f00"/>
<rect x="823" y="542" width="1" height="1" fill="#f00"/>
<rect x="824" y="543" width="1" height="1" fill="#f00"/>
<rect x="825" y="544" width="1" height="1" fill="#f00"/>
<rect x="826" y="545" width="1" height="1" fill="#f00"/>
<rect x="827" y="546" width="1" height="1" fill="#f00"/>
<rect x="817" y="547" width="1" height="1" fill="#f00"/>
<rect x="818" y="546" width="1" height="1" fill="#f00"/>
<rect x="819" y="545" width="1" height="1" fill="#f00"/>
<rect x="820" y="544" width="1" height="1" fill="#f00"/>
<rect x="821" y="543" width="1" height="1" fill="#f00"/>
<rect x="822" y="542" width="1" height="1" fill="#f00"/>
<rect x="823" y="541" width="1" height="1" fill="#f00"/>
<rect x="824" y="540" width="1" height="1" fill="#f00"/>
<rect x="825" y="539" width="1" height="1" fill="#f00"/>
<rect x="826" y="538" width="1" height="1" fill="#f00"/>
<rect x="827" y="537" width="1" height="1" fill="#f00"/>
<rect x="99" y="121" width="1" height="5" fill="#0ff"/>
<rect x="97" y="121" width="5" height="1" fill="#0ff"/>
<rect x="97" y="125" width="5" height="1" fill="#0ff"/>
<rect x="99" y="118" width="1" height="1" fill="#0ff"/>
<rect x="98" y="119" width="2" height="1" fill="#0ff"/>
<rect x="98" y="120" width="3" height="1" fill="#0ff"/>
<rect x="97" y="121" width="4" height="1" fill="#0ff"/>
<rect x="97" y="122" width="5" height="1" fill="#0ff"/>
<rect x="96" y="123" width="6" height="1" fill="#0ff"/>
<rect x="96" y="124" width="7" height="1" fill="#0ff"/>
<rect x="95" y="125" width="8" height="1" fill="#0ff"/>
<rect x="95" y="126" width="9" height="1" fill="#0ff"/>
<rect x="94" y="127" width="10" height="1" fill="#0ff"/>
<rect x="120" y="122" width="1" height="12" fill="#0ff"/>
<rect x="118" y="122" width="5" height="1" fill="#0ff"/>
<rect x="118" y="133" width="5" height="1" fill="#0ff"/>
<rect x="120" y="122" width="1" height="1" fill="#0ff"/>
<rect x="119" y="123" width="2" height="1" fill="#0ff"/>
<rect x="119" y="124" width="3" height="1" fill="#0ff"/>
<rect x="118" y="125" width="4" height="1" fill="#0ff"/>
<rect x="118" y="126" width="5" height="1" fill="#0ff"/>
<rect x="117" y="127" width="6" height="1" fill="#0ff"/>
<rect x="117" y="128" width="7" height="1" fill="#0ff"/>
<rect x="116" y="129" width="8" height="1" fill="#0ff"/>
<rect x="116" y="130" width="9" height="1" fill="#0ff"/>
<rect x="115" y="131" width="10" height="1" fill="#0ff"/>
<rect x="140" y="122" width="1" height="14" fill="#0ff"/>
<rect x="138" y="122" width="5" height="1" fill="#0ff"/>
<rect x="138" y="135" width="5" height="1" fill="#0ff"/>
<rect x="140" y="124" width="1" height="1" fill="#0ff"/>
<rect x="139" y="125" width="2" height="1" fill="#0ff"/>
<rect x="139" y="126" width="3" height="1" fill="#0ff"/>
<rect x="138" y="127" width="4" height="1" fill="#0ff"/>
<rect x="138" y="128" width="5" height="1" fill="#0ff"/>
<rect x="137" y="129" width="6" height="1" fill="#0ff"/>
<rect x="137" y="130" width="7" height="1" fill="#0ff"/>
<rect x="136" y="131" width="8" height="1" fill="#0ff"/>
<rect x="136" y="132" width="9" height="1" fill="#0ff"/>
<rect x="135" y="133" width="10" height="1" fill="#0ff"/>
<rect x="161" y="132" width="1" height="17" fill="#0ff"/>
<rect x="159" y="132" width="5" height="1" fill="#0ff"/>
<rect x="159" y="148" width="5" height="1" fill="#0ff"/>
<rect x="161" y="135" width="1" height="1" fill="#0ff"/>
<rect x="160" y="136" width="2" height="1" fill="#0ff"/>
<rect x="160" y="137" width="3" height="1" fill="#0ff"/>
<rect x="159" y="138" width="4" height="1" fill="#0ff"/>
<rect x="159" y="139" width="5" height="1" fill="#0ff"/>
<rect x="158" y="140" width="6" height="1" fill="#0ff"/>
<rect x="158" y="141" width="7" height="1" fill="#0ff"/>
<rect x="157" y="142" width="8" height="1" fill="#0ff"/>
<rect x="157" y="143" width="9" height="1" fill="#0ff"/>
<rect x="156" y="144" width="10" height="1" fill="#0ff"/>
<rect x="182" y="134" width="1" height="19" fill="#0ff"/>
<rect x="180" y="134" width="5" height="1" fill="#0ff"/>
<rect x="180" y="152" width="5" height="1" fill="#0ff"/>
<rect x="182" y="138" width="1" height="1" fill="#0ff"/>
<rect x="181" y="139" width="2" height="1" fill="#0ff"/>
<rect x="181" y="140" width="3" height="1" fill="#0ff"/>
<rect x="180" y="141" width="4" height="1" fill="#0ff"/>
<rect x="180" y="142" width="5" height="1" fill="#0ff"/>
<rect x="179" y="143" width="6" height="1" fill="#0ff"/>
<rect x="179" y="144" width="7" height="1" fill="#0ff"/>
<rect x="178" y="145" width="8" height="1" fill="#0ff"/>
<rect x="178" y="146" width="9" height="1" fill="#0ff"/>
<rect x="177" y="147" width="10" height="1" fill="#0ff"/>
<rect x="203" y="115" width="1" height="7" fill="#0ff"/>
<rect x="201" y="115" width="5" height="1" fill="#0ff"/>
<rect x="201" y="121" width="5" height="1" fill="#0ff"/>
<rect x="203" y="113" width="1" height="1" fill="#0ff"/>
<rect x="202" y="114" width="2" height="1" fill="#0ff"/>
<rect x="202" y="115" width="3" height="1" fill="#0ff"/>
<rect x="201" y="116" width="4" height="1" fill="#0ff"/>
<rect x="201" y="117" width="5" height="1" fill="#0ff"/>
<rect x="200" y="118" width="6" height="1" fill="#0ff"/>
<rect x="200" y="119" width="7" height="1" fill="#0ff"/>
<rect x="199" y="120" width="8" height="1" fill="#0ff"/>
<rect x="199" y="121" width="9" height="1" fill="#0ff"/>
<rect x="198" y="122" width="10" height="1" fill="#0ff"/>
<rect x="410" y="113" width="1" height="14" fill="#0ff"/>
<rect x="408" y="113" width="5" height="1" fill="#0ff"/>
<rect x="408" y="126" width="5" height="1" fill="#0ff"/>
<rect x="410" y="114" width="1" height="1" fill="#0ff"/>
<rect x="409" y="115" width="2" height="1" fill="#0ff"/>
<rect x="409" y="116" width="3" height="1" fill="#0ff"/>
<rect x="408" y="117" width="4" height="1" fill="#0ff"/>
<rect x="408" y="118" width="5" height="1" fill="#0ff"/>
<rect x="407" y="119" width="6" height="1" fill="#0ff"/>
<rect x="407" y="120" width="7" height="1" fill="#0ff"/>
<rect x="406" y="121" width="8" height="1" fill="#0ff"/>
<rect x="406" y="122" width="9" height="1" fill="#0ff"/>
<rect x="405" y="123" width="10" height="1" fill="#0ff"/>
<rect x="617" y="125" width="1" height="32" fill="#0ff"/>
<rect x="615" y="125" width="5" height="1" fill="#0ff"/>
<rect x="615" y="156" width="5" height="1" fill="#0ff"/>
<rect x="617" y="136" width="1" height="1" fill="#0ff"/>
<rect x="616" y="137" width="2" height="1" fill="#0ff"/>
<rect x="616" y="138" width="3" height="1" fill="#0ff"/>
<rect x="615" y="139" width="4" height="1" fill="#0ff"/>
<rect x="615" y="140" width="5" height="1" fill="#0ff"/>
<rect x="614" y="141" width="6" height="1" fill="#0ff"/>
<rect x="614" y="142" width="7" height="1" fill="#0ff"/>
<rect x="613" y="143" width="8" height="1" fill="#0ff"/>
<rect x="613" y="144" width="9" height="1" fill="#0ff"/>
<rect x="612" y="145" width="10" height="1" fill="#0ff"/>
<rect x="823" y="163" width="1" height="47" fill="#0ff"/>
<rect x="821" y="163" width="5" height="1" fill="#0ff"/>
<rect x="821" y="209" width="5" height="1" fill="#0ff"/>
<rect x="823" y="181" width="1" height="1" fill="#0ff"/>
<rect x="822" y="182" width="2" height="1" fill="#0ff"/>
<rect x="822" y="183" width="3" height="1" fill="#0ff"/>
<rect x="821" y="184" width="4" height="1" fill="#0ff"/>
<rect x="821" y="185" width="5" height="1" fill="#0ff"/>
<rect x="820" y="186" width="6" height="1" fill="#0ff"/>
<rect x="820" y="187" width="7" height="1" fill="#0ff"/>
<rect x="819" y="188" width="8" height="1" fill="#0ff"/>
<rect x="819" y="189" width="9" height="1" fill="#0ff"/>
<rect x="818" y="190" width="10" height="1" fill="#0ff"/>
<rect x="99" y="596" width="1" height="5" fill="#fc0"/>
<rect x="97" y="596" width="5" height="1" fill="#fc0"/>
<rect x="97" y="600" width="5" height="1" fill="#fc0"/>
<rect x="99" y="593" width="1" height="1" fill="#fc0"/>
<rect x="98" y="594" width="2" height="1" fill="#fc0"/>
<rect x="98" y="595" width="3" height="1" fill="#fc0"/>
<rect x="97" y="596" width="4" height="1" fill="#fc0"/>
<rect x="97" y="597" width="5" height="1" fill="#fc0"/>
<rect x="96" y="598" width="6" height="1" fill="#fc0"/>
<rect x="96" y="599" width="7" height="1" fill="#fc0"/>
<rect x="95" y="600" width="8" height="1" fill="#fc0"/>
<rect x="95" y="601" width="9" height="1" fill="#fc0"/>
<rect x="94" y="602" width="10" height="1" fill="#fc0"/>
<rect x="120" y="588" width="1" height="12" fill="#fc0"/>
<rect x="118" y="588" width="5" height="1" fill="#fc0"/>
<rect x="118" y="599" width="5" height="1" fill="#fc0"/>
<rect x="120" y="589" width="1" height="1" fill="#fc0"/>
<rect x="119" y="590" width="2" height="1" fill="#fc0"/>
<rect x="119" y="591" width="3" height="1" fill="#fc0"/>
<rect x="118" y="592" width="4" height="1" fill="#fc0"/>
<rect x="118" y="593" width="5" height="1" fill="#fc0"/>
<rect x="117" y="594" width="6" height="1" fill="#fc0"/>
<rect x="117" y="595" width="7" height="1" fill="#fc0"/>
<rect x="116" y="596" width="8" height="1" fill="#fc0"/>
<rect x="116" y="597" width="9" height="1" fill="#fc0"/>
<rect x="115" y="598" width="10" height="1" fill="#fc0"/>
<rect x="140" y="585" width="1" height="15" fill="#fc0"/>
<rect x="138" y="585" width="5" height="1" fill="#fc0"/>
<rect x="138" y="599" width="5" height="1" fill="#fc0"/>
<rect x="140" y="587" width="1" height="1" fill="#fc0"/>
<rect x="139" y="588" width="2" height="1" fill="#fc0"/>
<rect x="139" y="589" width="3" height="1" fill="#fc0"/>
<rect x="138" y="590" width="4" height="1" fill="#fc0"/>
<rect x="138" y="591" width="5" height="1" fill="#fc0"/>
<rect x="137" y="592" width="6" height="1" fill="#fc0"/>
<rect x="137" y="593" width="7" height="1" fill="#fc0"/>
<rect x="136" y="594" width="8" height="1" fill="#fc0"/>
<rect x="136" y="595" width="9" height="1" fill="#fc0"/>
<rect x="135" y="596" width="10" height="1" fill="#fc0"/>
<rect x="161" y="573" width="1" height="17" fill="#fc0"/>
<rect x="159" y="573" width="5" height="1" fill="#fc0"/>
<rect x="159" y="589" width="5" height="1" fill="#fc0"/>
<rect x="161" y="576" width="1" height="1" fill="#fc0"/>
<rect x="160" y="577" width="2" height="1" fill="#fc0"/>
<rect x="160" y="578" width="3" height="1" fill="#fc0"/>
<rect x="159" y="579" width="4" height="1" fill="#fc0"/>
<rect x="159" y="580" width="5" height="1" fill="#fc0"/>
<rect x="158" y="581" width="6" height="1" fill="#fc0"/>
<rect x="158" y="582" width="7" height="1" fill="#fc0"/>
<rect x="157" y="583" width="8" height="1" fill="#fc0"/>
<rect x="157" y="584" width="9" height="1" fill="#fc0"/>
<rect x="156" y="585" width="10" height="1" fill="#fc0"/>
<rect x="182" y="569" width="1" height="19" fill="#fc0"/>
<rect x="180" y="569" width="5" height="1" fill="#fc0"/>
<rect x="180" y="587" width="5" height="1" fill="#fc0"/>
<rect x="182" y="573" width="1" height="1" fill="#fc0"/>
<rect x="181" y="574" width="2" height="1" fill="#fc0"/>
<rect x="181" y="575" width="3" height="1" fill="#fc0"/>
<rect x="180" y="576" width="4" height="1" fill="#fc0"/>
<rect x="180" y="577" width="5" height="1" fill="#fc0"/>
<rect x="179" y="578" width="6" height="1" fill="#fc0"/>
<rect x="179" y="579" width="7" height="1" fill="#fc0"/>
<rect x="178" y="580" width="8" height="1" fill="#fc0"/>
<rect x="178" y="581" width="9" height="1" fill="#fc0"/>
<rect x="177" y="582" width="10" height="1" fill="#fc0"/>
<rect x="203" y="600" width="1" height="7" fill="#fc0"/>
<rect x="201" y="600" width="5" height="1" fill="#fc0"/>
<rect x="201" y="606" width="5" height="1" fill="#fc0"/>
<rect x="203" y="598" width="1" height="1" fill="#fc0"/>
<rect x="202" y="599" width="2" height="1" fill="#fc0"/>
<rect x="202" y="600" width="3" height="1" fill="#fc0"/>
<rect x="201" y="601" width="4" height="1" fill="#fc0"/>
<rect x="201" y="602" width="5" height="1" fill="#fc0"/>
<rect x="200" y="603" width="6" height="1" fill="#fc0"/>
<rect x="200" y="604" width="7" height="1" fill="#fc0"/>
<rect x="199" y="605" width="8" height="1" fill="#fc0"/>
<rect x="199" y="606" width="9" height="1" fill="#fc0"/>
<rect x="198" y="607" width="10" height="1" fill="#fc0"/>
<rect x="410" y="595" width="1" height="14" fill="#fc0"/>
<rect x="408" y="595" width="5" height="1" fill="#fc0"/>
<rect x="408" y="608" width="5" height="1" fill="#fc0"/>
<rect x="410" y="597" width="1" height="1" fill="#fc0"/>
<rect x="409" y="598" width="2" height="1" fill="#fc0"/>
<rect x="409" y="599" width="3" height="1" fill="#fc0"/>
<rect x="408" y="600" width="4" height="1" fill="#fc0"/>
<rect x="408" y="601" width="5" height="1" fill="#fc0"/>
<rect x="407" y="602" width="6" height="1" fill="#fc0"/>
<rect x="407" y="603" width="7" height="1" fill="#fc0"/>
<rect x="406" y="604" width="8" height="1" fill="#fc0"/>
<rect x="406" y="605" width="9" height="1" fill="#fc0"/>
<rect x="405" y="606" width="10" height="1" fill="#fc0"/>
<rect x="617" y="565" width="1" height="32" fill="#fc0"/>
<rect x="615" y="565" width="5" height="1" fill="#fc0"/>
<rect x="615" y="596" width="5" height="1" fill="#fc0"/>
<rect x="617" y="575" width="1" height="1" fill="#fc0"/>
<rect x="616" y="576" width="2" height="1" fill="#fc0"/>
<rect x="616" y="577" width="3" height="1" fill="#fc0"/>
<rect x="615" y="578" width="4" height="1" fill="#fc0"/>
<rect x="615" y="579" width="5" height="1" fill="#fc0"/>
<rect x="614" y="580" width="6" height="1" fill="#fc0"/>
<rect x="614" y="581" width="7" height="1" fill="#fc0"/>
<rect x="613" y="582" width="8" height="1" fill="#fc0"/>
<rect x="613" y="583" width="9" height="1" fill="#fc0"/>
<rect x="612" y="584" width="10" height="1" fill="#fc0"/>
<rect x="823" y="512" width="1" height="47" fill="#fc0"/>
<rect x="821" y="512" width="5" height="1" fill="#fc0"/>
<rect x="821" y="558" width="5" height="1" fill="#fc0"/>
<rect x="823" y="530" width="1" height="1" fill="#fc0"/>
<rect x="822" y="531" width="2" height="1" fill="#fc0"/>
<rect x="822" y="532" width="3" height="1" fill="#fc0"/>
<rect x="821" y="533" width="4" height="1" fill="#fc0"/>
<rect x="821" y="534" width="5" height="1" fill="#fc0"/>
<rect x="820" y="535" width="6" height="1" fill="#fc0"/>
<rect x="820" y="536" width="7" height="1" fill="#fc0"/>
<rect x="819" y="537" width="8" height="1" fill="#fc0"/>
<rect x="819" y="538" width="9" height="1" fill="#fc0"/>
<rect x="818" y="539" width="10" height="1" fill="#fc0"/>
<rect x="143" y="306" width="12" height="1" fill="#000"/>
<rect x="149" y="300" width="1" height="12" fill="#000"/>
<rect x="143" y="300" width="1" height="1" fill="#000"/>
<rect x="144" y="301" width="1" height="1" fill="#000"/>
<rect x="145" y="302" width="1" height="1" fill="#000"/>
<rect x="146" y="303" width="1" height="1" fill="#000"/>
<rect x="147" y="304" width="1" height="1" fill="#000"/>
<rect x="148" y="305" width="1" height="1" fill="#000"/>
<rect x="149" y="306" width="1" height="1" fill="#000"/>
<rect x="150" y="307" width="1" height="1" fill="#000"/>
<rect x="151" y="308" width="1" height="1" fill="#000"/>
<rect x="152" y="309" width="1" height="1" fill="#000"/>
<rect x="153" y="310" width="1" height="1" fill="#000"/>
<rect x="143" y="311" width="1" height="1" fill="#000"/>
<rect x="144" y="310" width="1" height="1" fill="#000"/>
<rect x="145" y="309" width="1" height="1" fill="#000"/>
<rect x="146" y="308" width="1" height="1" fill="#000"/>
<rect x="147" y="307" width="1" height="1" fill="#000"/>
<rect x="148" y="306" width="1" height="1" fill="#000"/>
<rect x="149" y="305" width="1" height="1" fill="#000"/>
<rect x="150" y="304" width="1" height="1" fill="#000"/>
<rect x="151" y="303" width="1" height="1" fill="#000"/>
<rect x="152" y="302" width="1" height="1" fill="#000"/>
<rect x="153" y="301" width="1" height="1" fill="#000"/>
<rect x="143" y="342" width="12" height="1" fill="#f00"/>
<rect x="149" y="336" width="1" height="12" fill="#f00"/>
<rect x="143" y="336" width="1" height="1" fill="#f00"/>
<rect x="144" y="337" width="1" height="1" fill="#f00"/>
<rect x="145" y="338" width="1" height="1" fill="#f00"/>
<rect x="146" y="339" width="1" height="1" fill="#f00"/>
<rect x="147" y="340" width="1" height="1" fill="#f00"/>
<rect x="148" y="341" width="1" height="1" fill="#f00"/>
<rect x="149" y="342" width="1" height="1" fill="#f00"/>
<rect x="150" y="343" width="1" height="1" fill="#f00"/>
<rect x="151" y="344" width="1" height="1" fill="#f00"/>
<rect x="152" y="345" width="1" height="1" fill="#f00"/>
<rect x="153" y="346" width="1" height="1" fill="#f00"/>
<rect x="143" y="347" width="1" height="1" fill="#f00"/>
<rect x="144" y="346" width="1" height="1" fill="#f00"/>
<rect x="145" y="345" width="1" height="1" fill="#f00"/>
<rect x="146" y="344" width="1" height="1" fill="#f00"/>
<rect x="147" y="343" width="1" height="1" fill="#f00"/>
<rect x="148" y="342" width="1" height="1" fill="#f00"/>
<rect x="149" y="341" width="1" height="1" fill="#f00"/>
<rect x="150" y="340" width="1" height="1" fill="#f00"/>
<rect x="151" y="339" width="1" height="1" fill="#f00"/>
<rect x="152" y="338" width="1" height="1" fill="#f00"/>
<rect x="153" y="337" width="1" height="1" fill="#f00"/>
<rect x="149" y="374" width="1" height="1" fill="#0ff"/>
<rect x="148" y="375" width="2" height="1" fill="#0ff"/>
<rect x="148" y="376" width="3" height="1" fill="#0ff"/>
<rect x="147" y="377" width="4" height="1" fill="#0ff"/>
<rect x="147" y="378" width="5" height="1" fill="#0ff"/>
<rect x="146" y="379" width="6" height="1" fill="#0ff"/>
<rect x="146" y="380" width="7" height="1" fill="#0ff"/>
<rect x="145" y="381" width="8" height="1" fill="#0ff"/>
<rect x="145" y="382" width="9" height="1" fill="#0ff"/>
<rect x="144" y="383" width="10" height="1" fill="#0ff"/>
<rect x="149" y="410" width="1" height="1" fill="#fc0"/>
<rect x="148" y="411" width="2" height="1" fill="#fc0"/>
<rect x="148" y="412" width="3" height="1" fill="#fc0"/>
<rect x="147" y="413" width="4" height="1" fill="#fc0"/>
<rect x="147" y="414" width="5" height="1" fill="#fc0"/>
<rect x="146" y="415" width="6" height="1" fill="#fc0"/>
<rect x="146" y="416" width="7" height="1" fill="#fc0"/>
<rect x="145" y="417" width="8" height="1" fill="#fc0"/>
<rect x="145" y="418" width="9" height="1" fill="#fc0"/>
<rect x="144" y="419" width="10" height="1" fill="#fc0"/>
</g>
</svg></body></html>
